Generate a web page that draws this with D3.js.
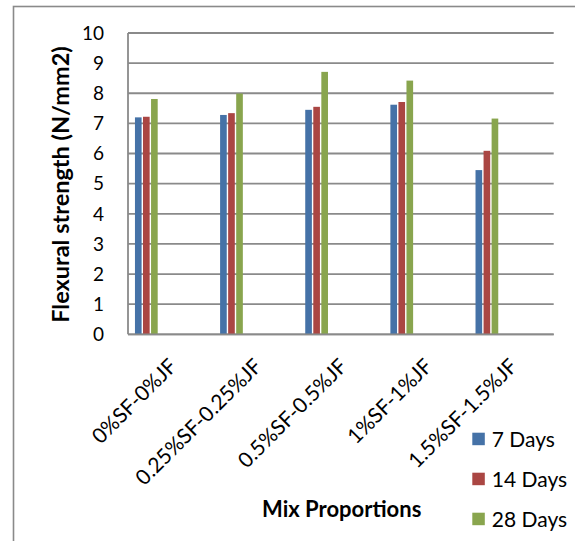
<!DOCTYPE html>
<html><head><meta charset="utf-8">
<script src="https://cdn.jsdelivr.net/npm/d3@7"></script>
<style>body{margin:0;background:#fff;} svg text{font-family:Lato,"Open Sans",sans-serif;fill:#000;}</style>
</head><body><svg id="c" width="575" height="541"></svg>
<script>
const categories = ["0%SF-0%JF","0.25%SF-0.25%JF","0.5%SF-0.5%JF","1%SF-1%JF","1.5%SF-1.5%JF"];
const seriesNames = ["7 Days","14 Days","28 Days"];
const days7  = [7.20, 7.28, 7.45, 7.62, 5.45];
const days14 = [7.22, 7.34, 7.55, 7.71, 6.09];
const days28 = [7.81, 7.99, 8.71, 8.42, 7.16];
const yTicks = [0,1,2,3,4,5,6,7,8,9,10];
const colors = ["#4572A7","#AA4643","#89A54E"];
const yTitle = "Flexural strength (N/mm2)";
const xTitle = "Mix Proportions";

const series = [days7, days14, days28];
const svg = d3.select("#c");
const plot = {left:128, right:553.7, top:33, bottom:334.3};
const gridColor = "#8a8a8a";

const y = d3.scaleLinear().domain([0,10]).range([plot.bottom, plot.top]);
const x0 = d3.scaleBand().domain(categories).range([plot.left, plot.right]).padding(0);
const bw = x0.bandwidth();
const slotTotal = 10.58, slotOffset = 0.79;
const x1 = d3.scaleBand().domain(seriesNames)
  .range([slotOffset/slotTotal*bw, (slotOffset+3)/slotTotal*bw]);

// outer chart border
svg.append("rect").attr("x",13.5).attr("y",6.5).attr("width",700).attr("height",700)
  .attr("fill","none").attr("stroke",gridColor).attr("stroke-width",1.6);

// gridlines
svg.append("g").selectAll("line").data(yTicks).join("line")
  .attr("x1",plot.left).attr("x2",plot.right)
  .attr("y1",d=>y(d)).attr("y2",d=>y(d))
  .attr("stroke",gridColor).attr("stroke-width",1.8);
// vertical axis line
svg.append("line").attr("x1",plot.left).attr("x2",plot.left)
  .attr("y1",y(10)).attr("y2",y(0)).attr("stroke",gridColor).attr("stroke-width",1.8);

// bars
const barData = [];
categories.forEach((c,i)=>seriesNames.forEach((s,j)=>barData.push({c, s, j, v:series[j][i]})));
svg.append("g").selectAll("rect").data(barData).join("rect")
  .attr("x",d=>x0(d.c)+x1(d.s)+0.6)
  .attr("width",x1.bandwidth()-1.4)
  .attr("y",d=>y(d.v))
  .attr("height",d=>y(0)-y(d.v))
  .attr("fill",d=>colors[d.j]);
// bottom axis line over bars
svg.append("line").attr("x1",plot.left).attr("x2",plot.right)
  .attr("y1",y(0)).attr("y2",y(0)).attr("stroke",gridColor).attr("stroke-width",1.8);

// y tick labels
svg.append("g").selectAll("text").data(yTicks).join("text")
  .attr("x",104).attr("y",d=>y(d)).attr("dy","0.36em")
  .attr("text-anchor","end").attr("font-size",19).text(d=>d);

// x labels
svg.append("g").selectAll("text").data(categories).join("text")
  .attr("transform",d=>`translate(${x0(d)+bw/2-3},357) rotate(-45)`)
  .attr("text-anchor","end").attr("dy","0.71em").attr("font-size",21).text(d=>d);

// y title
svg.append("text").attr("transform","translate(61,184.5) rotate(-90)")
  .attr("text-anchor","middle").attr("dy","0.35em")
  .attr("font-size",23.5).attr("font-weight","bold").text(yTitle);

// x title
svg.append("text").attr("x",341.7).attr("y",517).attr("text-anchor","middle")
  .attr("font-size",22).attr("font-weight","bold").text(xTitle);

// legend
const lg = svg.append("g").selectAll("g").data(seriesNames).join("g")
  .attr("transform",(d,i)=>`translate(472.3,${439.2+i*40})`);
lg.append("rect").attr("x",0).attr("y",-6.5).attr("width",12.5).attr("height",12.5)
  .attr("fill",(d,i)=>colors[i]);
lg.append("text").attr("x",19.5).attr("y",0).attr("dy","0.36em")
  .attr("font-size",21).text(d=>d);
</script></body></html>
